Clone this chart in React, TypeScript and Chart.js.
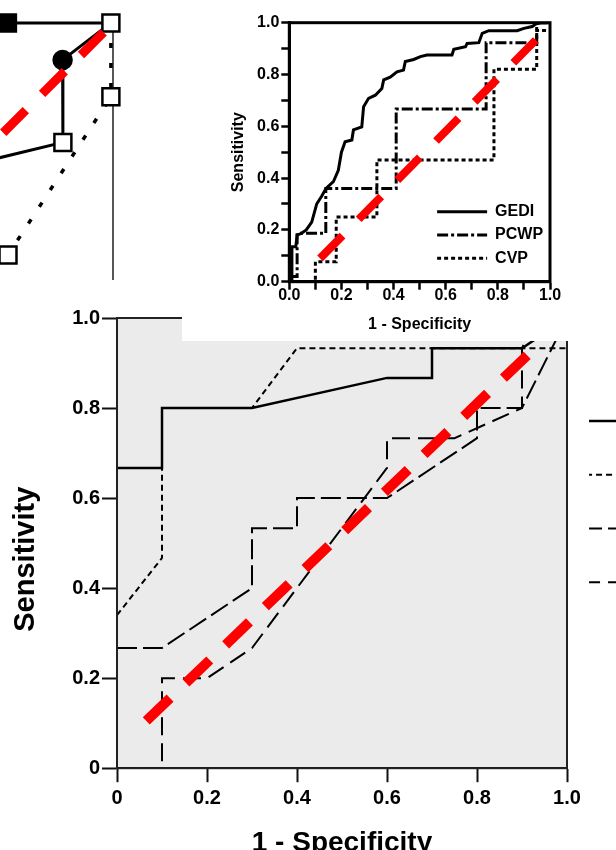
import React, { useEffect, useRef } from 'react';
import { Chart, registerables } from 'chart.js';

Chart.register(...registerables);
Chart.defaults.font.family = "'Liberation Sans', Arial, Helvetica, sans-serif";
Chart.defaults.color = '#000';

// ===== Top-left fragment (partial ROC plot, cut off by the frame) =====
const tlLineAX = [0.648, 0.993];
const tlLineAY = [1.0, 1.0];
const tlLineBX = [0.993, 0.832, 0.833, 0.423];
const tlLineBY = [1.0, 0.877, 0.602, 0.503];
const tlLineCX = [0.993, 0.993, 0.65];
const tlLineCY = [1.0, 0.754, 0.227];
const tlEdgeX = [1.0, 1.0];
const tlEdgeY = [1.0, 0.1];
const tlChanceX = [0.634, 0.979];
const tlChanceY = [0.634, 0.979];

// ===== Top-right ROC: GEDI / PCWP / CVP =====
const trLabels = ['GEDI', 'PCWP', 'CVP'];
const gediX = [0, 0.01, 0.01, 0.025, 0.03, 0.047, 0.065, 0.086, 0.105, 0.124, 0.141, 0.169, 0.188, 0.2, 0.214, 0.24, 0.246, 0.278, 0.285, 0.304, 0.33, 0.355, 0.362, 0.387, 0.413, 0.438, 0.445, 0.477, 0.503, 0.528, 0.624, 0.631, 0.676, 0.682, 0.727, 0.74, 0.765, 0.874, 0.9, 0.932, 0.945, 0.964, 1.0];
const gediY = [0, 0, 0.135, 0.135, 0.18, 0.187, 0.2, 0.23, 0.3, 0.33, 0.36, 0.386, 0.43, 0.5, 0.54, 0.547, 0.586, 0.598, 0.676, 0.708, 0.72, 0.746, 0.779, 0.79, 0.81, 0.817, 0.85, 0.858, 0.869, 0.875, 0.875, 0.897, 0.907, 0.92, 0.923, 0.959, 0.969, 0.969, 0.978, 0.985, 0.995, 1.0, 1.0];
const pcwpX = [0, 0.03, 0.03, 0.14, 0.14, 0.41, 0.41, 0.755, 0.755, 0.949, 0.949, 1.0];
const pcwpY = [0.02, 0.02, 0.187, 0.187, 0.36, 0.36, 0.667, 0.667, 0.923, 0.923, 1.0, 1.0];
const cvpX = [0, 0.1, 0.1, 0.18, 0.18, 0.336, 0.336, 0.785, 0.785, 0.949, 0.949, 1.0];
const cvpY = [0, 0, 0.077, 0.077, 0.25, 0.25, 0.47, 0.47, 0.82, 0.82, 0.97, 0.97];
const trChanceX = [0.118, 0.958];
const trChanceY = [0.09, 0.946];

// ===== Bottom ROC (four curves) =====
const bLabels = ['Curve 1', 'Curve 2', 'Curve 3', 'Curve 4'];
const bSolidX = [0, 0.1, 0.1, 0.3, 0.6, 0.7, 0.7, 0.9, 1.0];
const bSolidY = [0.667, 0.667, 0.8, 0.8, 0.867, 0.867, 0.933, 0.933, 1.0];
const bShortX = [0, 0.1, 0.1, 0.3, 0.4, 1.0, 1.0];
const bShortY = [0.34, 0.467, 0.8, 0.8, 0.933, 0.933, 1.0];
const bLongX = [0, 0.1, 0.3, 0.3, 0.4, 0.4, 0.6, 0.8, 0.8, 0.9, 1.0];
const bLongY = [0.267, 0.267, 0.4, 0.533, 0.533, 0.6, 0.6, 0.733, 0.8, 0.8, 1.0];
const bDashX = [0, 0.1, 0.1, 0.2, 0.3, 0.6, 0.6, 0.75, 0.9, 0.9, 0.93];
const bDashY = [0, 0, 0.2, 0.2, 0.267, 0.667, 0.733, 0.733, 0.8, 0.933, 1.0];
const bChanceX = [0.065, 0.92];
const bChanceY = [0.105, 0.925];

const pts = (xs: number[], ys: number[]) => xs.map((x, i) => ({ x, y: ys[i] }));

const chanceSet = (xs: number[], ys: number[], width: number, dash: number[]) => ({
  label: 'Chance',
  data: pts(xs, ys),
  showLine: true,
  borderColor: '#ff0000',
  backgroundColor: '#ff0000',
  borderWidth: width,
  borderDash: dash,
  borderCapStyle: 'butt',
  pointRadius: 0,
  order: 0,
});

const lineSet = (label: string, xs: number[], ys: number[], width: number, dash: number[], order: number, extra: any = {}) => ({
  label,
  data: pts(xs, ys),
  showLine: true,
  borderColor: '#000',
  backgroundColor: '#000',
  borderWidth: width,
  borderDash: dash,
  pointRadius: 0,
  order,
  ...extra,
});

// legend entries drawn as line samples carrying each dataset's own dash pattern
const lineLegendLabels = (chart: any) => {
  const base = (Chart.defaults as any).plugins.legend.labels.generateLabels(chart);
  return base
    .filter((it: any) => it.text !== 'Chance')
    .map((it: any) => {
      const ds = chart.data.datasets[it.datasetIndex];
      return {
        ...it,
        pointStyle: 'line',
        lineDash: ds.borderDash || [],
        lineDashOffset: ds.legendDashOffset || 0,
        lineWidth: ds.borderWidth,
        strokeStyle: ds.borderColor,
        fillStyle: ds.borderColor,
      };
    });
};

const framePlugin = {
  id: 'frame',
  beforeDraw(chart: any, _args: any, opts: any) {
    if (!opts || !opts.fill) return;
    const { ctx, chartArea: a } = chart;
    ctx.save();
    ctx.fillStyle = opts.fill;
    ctx.fillRect(a.left, a.top, a.right - a.left, a.bottom - a.top);
    ctx.restore();
  },
  afterDatasetsDraw(chart: any, _args: any, opts: any) {
    if (!opts || !opts.lineWidth) return;
    const { ctx, chartArea: a } = chart;
    ctx.save();
    ctx.strokeStyle = opts.color || '#000';
    ctx.lineWidth = opts.lineWidth;
    ctx.strokeRect(a.left, a.top, a.right - a.left, a.bottom - a.top);
    ctx.restore();
  },
};

// anchors the legend box at a data position (first entry's line start / centre)
const legendAnchorPlugin = {
  id: 'legendAnchor',
  beforeDraw(chart: any, _args: any, opts: any) {
    if (!opts || opts.x == null) return;
    const lg = chart.legend;
    if (!lg) return;
    const left = chart.scales.x.getPixelForValue(opts.x) - opts.pad;
    const top = chart.scales.y.getPixelForValue(opts.y) - opts.fs / 2 - opts.pad;
    lg.left = left;
    lg.right = left + 400;
    lg.top = top;
    lg.bottom = top + 400;
  },
};

const fmtBottom = (v: number) => (v === 0 ? '0' : Number(v).toFixed(1));

function topLeftConfig(): any {
  return {
    type: 'scatter',
    data: {
      datasets: [
        chanceSet(tlChanceX, tlChanceY, 9, [32, 23]),
        lineSet('A', tlLineAX, tlLineAY, 3, [], 1, {
          pointStyle: ['rect', 'rect'],
          pointRadius: [12, 12],
          pointBackgroundColor: ['#000', '#fff'],
          pointBorderColor: '#000',
          pointBorderWidth: 2.5,
        }),
        lineSet('B', tlLineBX, tlLineBY, 3, [], 2, {
          pointStyle: ['circle', 'circle', 'rect', 'circle'],
          pointRadius: [0, 9, 12, 0],
          pointBackgroundColor: ['#000', '#000', '#fff', '#000'],
          pointBorderColor: '#000',
          pointBorderWidth: 2.5,
        }),
        lineSet('C', tlLineCX, tlLineCY, 3.5, [5, 15], 3, {
          pointStyle: 'rect',
          pointRadius: [0, 12, 12],
          pointBackgroundColor: '#fff',
          pointBorderColor: '#000',
          pointBorderWidth: 2.5,
        }),
        lineSet('D', tlEdgeX, tlEdgeY, 1.5, [], 4, { borderColor: '#222' }),
      ],
    },
    options: {
      responsive: false,
      animation: false,
      events: [],
      layout: { padding: 0, autoPadding: false },
      scales: {
        x: { type: 'linear', display: false, min: 0.6233, max: 1.0567 },
        y: { type: 'linear', display: false, min: 0.1433, max: 1.0767 },
      },
      plugins: { legend: { display: false }, tooltip: { enabled: false } },
    },
  };
}

function topRightConfig(): any {
  const axisCommon = {
    type: 'linear',
    min: 0,
    max: 1,
    border: { display: true, color: '#000', width: 3 },
    grid: { drawOnChartArea: false, drawTicks: true, tickLength: 8, tickWidth: 2.5, tickColor: '#000' },
  };
  return {
    type: 'scatter',
    data: {
      datasets: [
        chanceSet(trChanceX, trChanceY, 8, [32, 23]),
        lineSet(trLabels[0], gediX, gediY, 3, [], 1),
        lineSet(trLabels[1], pcwpX, pcwpY, 3, [11, 3, 3, 3], 2),
        lineSet(trLabels[2], cvpX, cvpY, 3, [4, 3], 3),
      ],
    },
    options: {
      responsive: false,
      animation: false,
      events: [],
      layout: { padding: { top: 22.7, right: 65, bottom: 0, left: 0 }, autoPadding: false },
      scales: {
        x: {
          ...axisCommon,
          position: 'bottom',
          afterFit: (s: any) => { s.height = 59.3; },
          ticks: {
            stepSize: 0.1, autoSkip: false, maxRotation: 0, minRotation: 0, padding: -4,
            font: { size: 16, weight: 'bold' },
            callback: (v: number, i: number) => (i % 2 === 0 ? Number(v).toFixed(1) : ''),
          },
          title: { display: true, text: '1 - Specificity', font: { size: 16, weight: 'bold' }, padding: { top: 0, bottom: 6.4 } },
        },
        y: {
          ...axisCommon,
          position: 'left',
          afterFit: (s: any) => { s.width = 107.3; },
          ticks: {
            stepSize: 0.1, autoSkip: false, padding: 2,
            font: { size: 16, weight: 'bold' },
            callback: (v: number, i: number) => (i % 2 === 0 ? Number(v).toFixed(1) : ''),
          },
          title: { display: true, text: 'Sensitivity', font: { size: 16, weight: 'bold' }, padding: { top: 46.7, bottom: 0 } },
        },
      },
      plugins: {
        tooltip: { enabled: false },
        legend: {
          position: 'right',
          align: 'start',
          maxWidth: 1,
          labels: {
            usePointStyle: true,
            pointStyle: 'line',
            pointStyleWidth: 50,
            padding: 7.3,
            color: '#000',
            font: { size: 16, weight: 'bold' },
            generateLabels: lineLegendLabels,
          },
        },
        frame: { fill: '#fff', color: '#000', lineWidth: 3 },
        legendAnchor: { x: 0.567, y: 0.27, pad: 7.3, fs: 16 },
      },
    },
    plugins: [framePlugin, legendAnchorPlugin],
  };
}

function bottomConfig(): any {
  return {
    type: 'scatter',
    data: {
      datasets: [
        chanceSet(bChanceX, bChanceY, 10, [33, 22]),
        lineSet(bLabels[0], bSolidX, bSolidY, 2.5, [], 1),
        lineSet(bLabels[1], bShortX, bShortY, 2, [6, 4], 2, { legendDashOffset: 3 }),
        lineSet(bLabels[2], bLongX, bLongY, 2, [20, 6], 3, { legendDashOffset: 7 }),
        lineSet(bLabels[3], bDashX, bDashY, 2, [18, 8], 4, { legendDashOffset: 7 }),
      ],
    },
    options: {
      responsive: false,
      animation: false,
      events: [],
      layout: { padding: { top: 18, right: 48, bottom: 0, left: 0 }, autoPadding: false },
      scales: {
        x: {
          type: 'linear', min: 0, max: 1, position: 'bottom',
          afterFit: (s: any) => { s.height = 91.8; },
          border: { display: true, color: '#111', width: 2 },
          grid: { drawOnChartArea: false, drawTicks: true, tickLength: 14, tickWidth: 2, tickColor: '#111' },
          ticks: {
            stepSize: 0.2, autoSkip: false, maxRotation: 0, minRotation: 0, padding: 4,
            font: { size: 20, weight: 'bold' },
            callback: (v: number) => fmtBottom(v),
          },
          title: { display: true, text: '1 - Specificity', font: { size: 28, weight: 'bold' }, padding: { top: 0, bottom: 0 } },
        },
        y: {
          type: 'linear', min: 0, max: 1, position: 'left',
          afterFit: (s: any) => { s.width = 117; },
          border: { display: true, color: '#111', width: 2 },
          grid: { drawOnChartArea: false, drawTicks: true, tickLength: 15, tickWidth: 2, tickColor: '#111' },
          ticks: {
            stepSize: 0.2, autoSkip: false, padding: 2,
            font: { size: 20, weight: 'bold' },
            callback: (v: number) => fmtBottom(v),
          },
          title: { display: true, text: 'Sensitivity\u00A0\u00A0\u00A0\u00A0', font: { size: 29, weight: 'bold' }, padding: { top: 8.6, bottom: 0 } },
        },
      },
      plugins: {
        tooltip: { enabled: false },
        legend: {
          position: 'right',
          align: 'start',
          maxWidth: 1,
          labels: {
            usePointStyle: true,
            pointStyle: 'line',
            pointStyleWidth: 40,
            padding: 22,
            color: '#000',
            font: { size: 31.7, weight: 'bold' },
            generateLabels: lineLegendLabels,
          },
        },
        frame: { fill: '#ebebeb', color: '#222', lineWidth: 2 },
        legendAnchor: { x: 1.049, y: 0.771, pad: 22, fs: 31.7 },
      },
    },
    plugins: [framePlugin, legendAnchorPlugin],
  };
}

export default function App() {
  const tlRef = useRef<HTMLCanvasElement>(null);
  const trRef = useRef<HTMLCanvasElement>(null);
  const bRef = useRef<HTMLCanvasElement>(null);

  useEffect(() => {
    const charts = [
      new Chart(bRef.current as HTMLCanvasElement, bottomConfig()),
      new Chart(tlRef.current as HTMLCanvasElement, topLeftConfig()),
      new Chart(trRef.current as HTMLCanvasElement, topRightConfig()),
    ];
    return () => charts.forEach((c) => c.destroy());
  }, []);

  return (
    <div style={{ position: 'fixed', left: 0, top: 0, width: 616, height: 850, overflow: 'hidden', background: '#fff' }}>
      <canvas ref={bRef} width={616} height={560} style={{ position: 'absolute', left: 0, top: 300 }} />
      <canvas ref={tlRef} width={130} height={280} style={{ position: 'absolute', left: 0, top: 0 }} />
      <canvas ref={trRef} width={434} height={341} style={{ position: 'absolute', left: 182, top: 0, background: '#fff' }} />
    </div>
  );
}
